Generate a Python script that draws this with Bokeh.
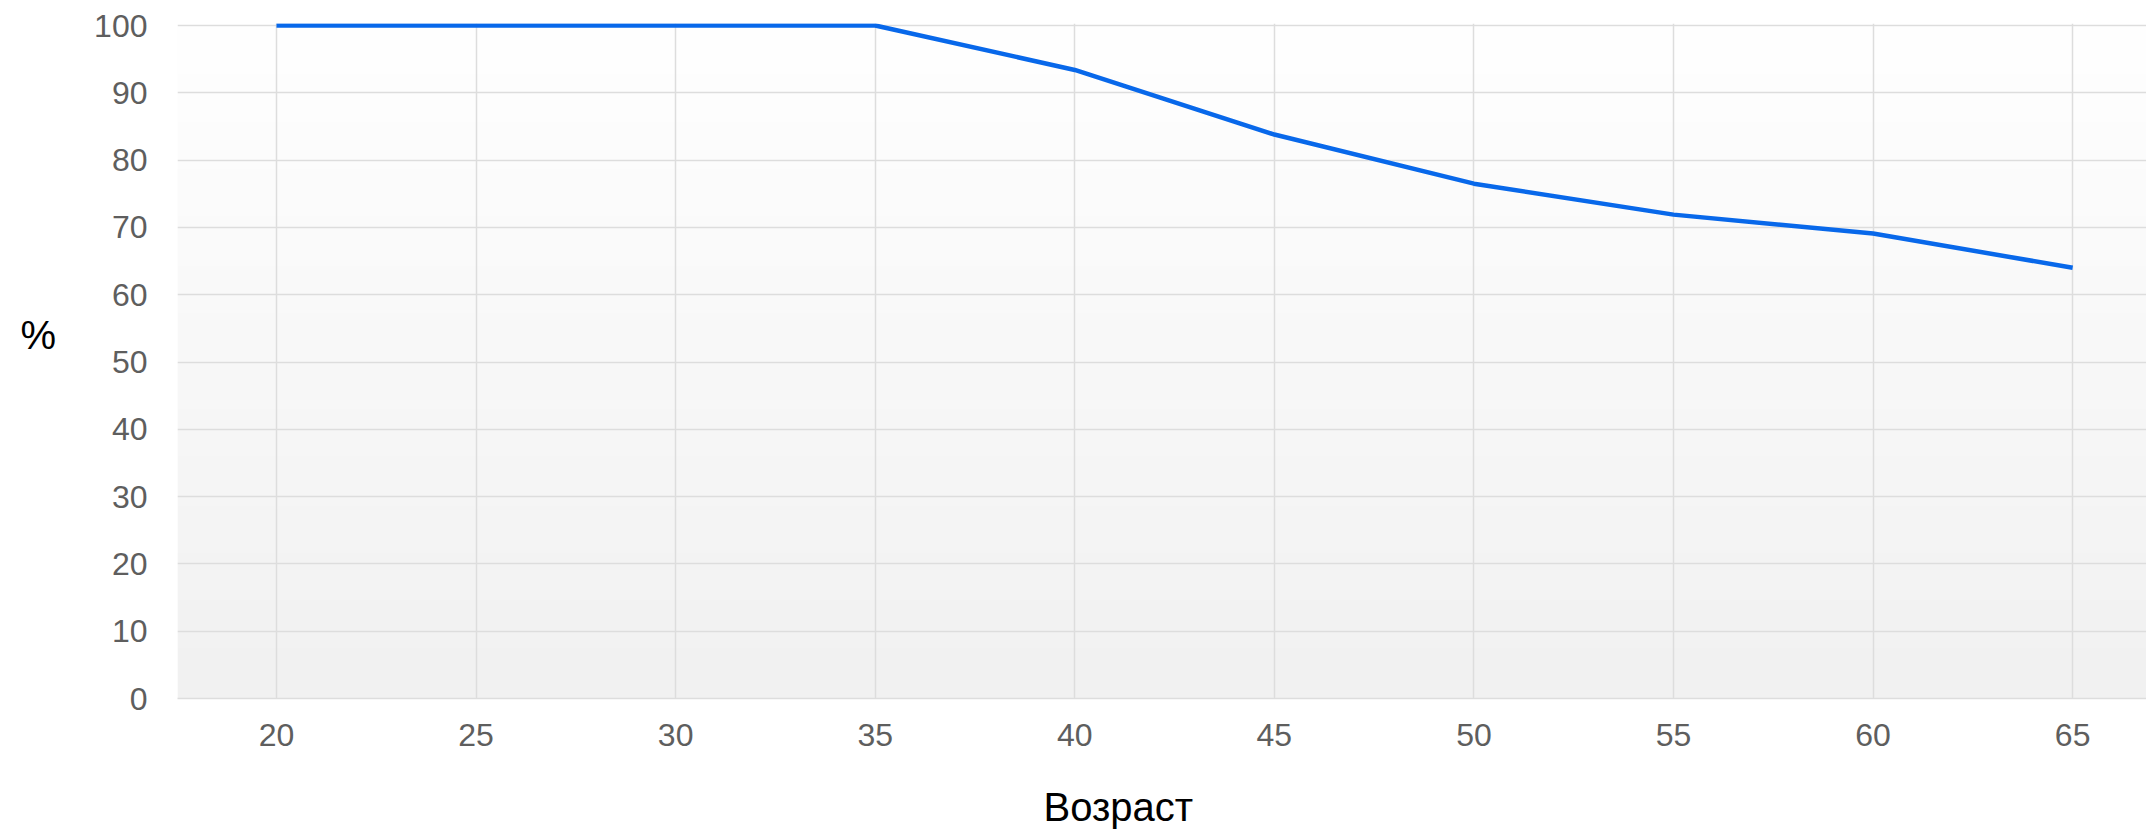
import numpy as np
from bokeh.plotting import figure
from bokeh.models import FixedTicker, Range1d, Title
from bokeh.embed import file_html
from bokeh.resources import INLINE

# ---- data ----
ages = [20, 25, 30, 35, 40, 45, 50, 55, 60, 65]
percent = [100, 100, 100, 100, 93.4, 83.8, 76.5, 71.9, 69.1, 64.0]
x_ticks = [20, 25, 30, 35, 40, 45, 50, 55, 60, 65]
y_ticks = [0, 10, 20, 30, 40, 50, 60, 70, 80, 90, 100]
x_title = "Возраст"
y_title = "%"

FONT = "Liberation Sans"
X0, X1 = 17.52, 66.85
Y0, Y1 = 0, 100.3

p = figure(width=2146, height=829, output_backend="svg", toolbar_location=None,
           x_range=Range1d(X0, X1), y_range=Range1d(Y0, Y1),
           min_border_left=177, min_border_right=0, min_border_top=23,
           min_border_bottom=131)
p.outline_line_color = None
p.background_fill_color = "white"
p.border_fill_color = "white"

# background gradient (white at top to light grey at bottom)
n = 200
t = np.linspace(0, 1, n)  # row 0 = bottom
g = (241 + (255 - 241) * t).astype(np.uint32)
img = np.zeros((n, 1), dtype=np.uint32)
view = img.view(dtype=np.uint8).reshape((n, 1, 4))
view[:, 0, 0] = g
view[:, 0, 1] = g
view[:, 0, 2] = g
view[:, 0, 3] = 255
p.image_rgba(image=[img], x=X0, y=Y0, dw=X1 - X0, dh=100, level="image")

p.line(ages, percent, line_color="#0868ea", line_width=4.5, line_join="round")

# grids
for grid in (p.xgrid, p.ygrid):
    grid.grid_line_color = "#dddddd"
    grid.grid_line_width = 1.5
p.xgrid.ticker = FixedTicker(ticks=x_ticks)
p.ygrid.ticker = FixedTicker(ticks=y_ticks)

# axes
p.xaxis.ticker = FixedTicker(ticks=x_ticks)
p.yaxis.ticker = FixedTicker(ticks=y_ticks)
for ax in (p.xaxis[0], p.yaxis[0]):
    ax.major_tick_line_color = None
    ax.minor_tick_line_color = None
    ax.major_tick_in = 0
    ax.major_tick_out = 0
    ax.major_label_text_font = FONT
    ax.major_label_text_font_size = "32px"
    ax.major_label_text_color = "#5e5e5e"
p.yaxis.axis_line_color = None
p.xaxis.axis_line_color = "#dddddd"
p.xaxis.axis_line_width = 1.5
p.yaxis.major_label_standoff = 30
p.xaxis.major_label_standoff = 25

# y title (horizontal, raised by half a line)
p.yaxis.axis_label = y_title + "\n"
p.yaxis.axis_label_orientation = "horizontal"
p.yaxis.axis_label_text_font = FONT
p.yaxis.axis_label_text_font_size = "40px"
p.yaxis.axis_label_text_font_style = "normal"
p.yaxis.axis_label_text_color = "black"
p.yaxis.axis_label_standoff = 35

# x title (leading blank line lowers it)
p.add_layout(Title(text="\n" + x_title, align="left", offset=866, standoff=0,
                   text_line_height=0.8,
                   text_font=FONT, text_font_size="40px",
                   text_font_style="normal", text_color="black"), "below")

open("out.html", "w").write(file_html(p, INLINE))
